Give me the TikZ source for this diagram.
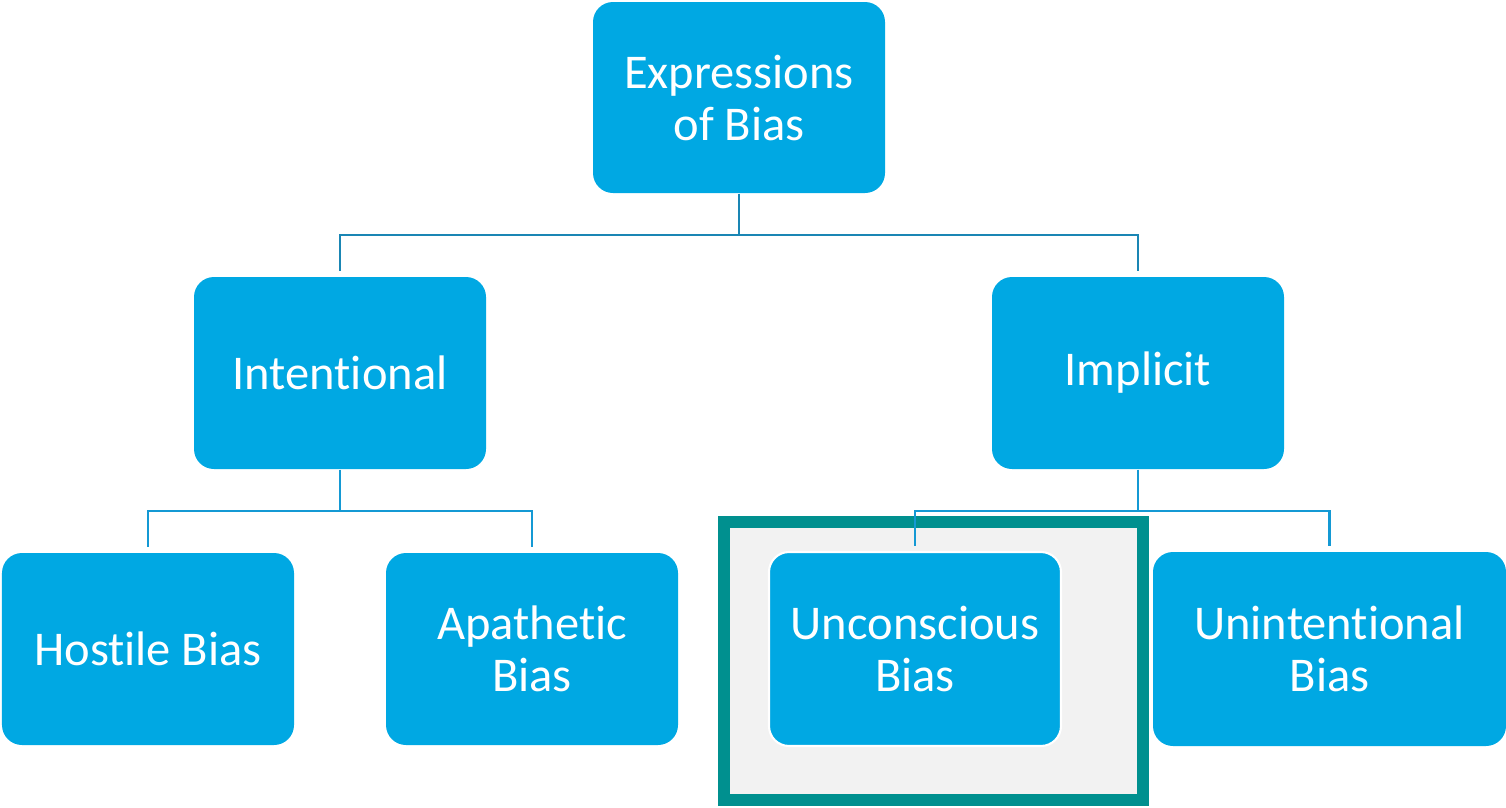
\documentclass[tikz,border=0pt]{standalone}
\usepackage{fontspec}
\setmainfont[Ligatures = NoCommon]{Carlito}
\usetikzlibrary{positioning, calc}
\definecolor{boxblue}{HTML}{00A8E3}
\definecolor{linedark}{HTML}{1A86B4}
\definecolor{linemid}{HTML}{1499D4}
\definecolor{frameteal}{HTML}{00908F}
\definecolor{framegrey}{HTML}{F2F2F2}

\begin{document}
\begin{tikzpicture}[
    biasbox/.style = {
        minimum width = 29.2mm,
        minimum height = 19.2mm,
        fill = boxblue,
        draw = none,
        rounded corners = 2mm,
        text = white,
        align = center,
        font = \fontsize{13.8}{14.8}\selectfont
    },
    linkA/.style = {draw = linedark, line width = 0.8pt},
    linkB/.style = {draw = linemid, line width = 0.8pt}
]
\useasboundingbox (0, 0) rectangle (15.06, 8.07);

% highlight frame
\draw[draw = frameteal, fill = framegrey, line width = 1.2mm] (7.24, 0.07) rectangle (11.43, 2.85);

% top level
\node[biasbox, minimum height = 19.1mm] (expr) at (7.39, 7.095) {Expressions\\of Bias};

% second level
\node[biasbox] (intent) at (3.40, 4.34) {Intentional};
\node[biasbox] (implicit) at (11.38, 4.34) {Implicit};

% third level
\node[biasbox] (hostile) at (1.48, 1.58) {Hostile Bias};
\node[biasbox] (apathetic) at (5.32, 1.58) {Apathetic\\Bias};
\node[biasbox, minimum height = 19.4mm, draw = white, line width = 0.6pt] (unconscious) at (9.15, 1.58) {Unconscious\\Bias};
\node[biasbox, minimum width = 35.3mm, minimum height = 19.4mm] (unintent) at (13.295, 1.58) {Unintentional\\Bias};

% lines
\coordinate (splitA) at (7.39, 5.72);
\coordinate (splitB) at (3.40, 2.96);
\coordinate (splitC) at (11.38, 2.96);

\draw[linkA] (expr.south) -- (splitA);
\draw[linkA, shorten >= 1.5pt] (splitA) -| (intent.north);
\draw[linkA, shorten >= 1.5pt] (splitA) -| (implicit.north);

\draw[linkB] (intent.south) -- (splitB);
\draw[linkB, shorten >= 1.5pt] (splitB) -| (hostile.north);
\draw[linkB, shorten >= 1.5pt] (splitB) -| (apathetic.north);

\draw[linkB] (implicit.south) -- (splitC);
\draw[linkB, shorten >= 1.5pt] (splitC) -| (unconscious.north);
\draw[linkB, shorten >= 1.5pt] (splitC) -| (unintent.north);

\end{tikzpicture}
\end{document}
